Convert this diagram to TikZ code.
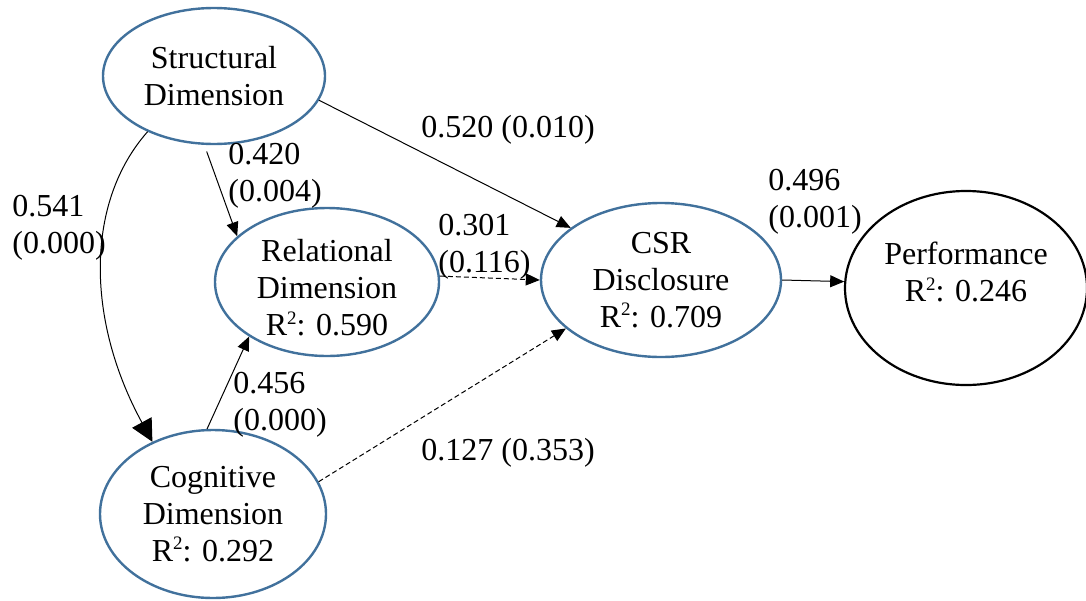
\documentclass[tikz,border=0pt]{standalone}
\usepackage{fontspec}
\setmainfont{Liberation Serif}
\usetikzlibrary{arrows.meta,shapes.geometric}
\definecolor{latentblue}{HTML}{41719C}
% small raised "2" for R-squared
\newcommand\rsqmark{\raisebox{0.36em}{\fontsize{9.5}{9.5}\selectfont 2}}
\begin{document}
\begin{tikzpicture}[x=0.5pt,y=-0.5pt,
  every node/.style={font=\fontsize{16}{18.5}\selectfont, inner sep=0pt},
  latent/.style={ellipse, draw=latentblue, line width=1.2pt, align=center},
  outcome/.style={ellipse, draw=black, line width=1.1pt, align=center},
  path/.style={draw=black, line width=0.5pt, -{Triangle[length=7pt,width=6pt]}},
  weakpath/.style={path, dashed, dash pattern=on 2.5pt off 1.5pt},
  coef/.style={align=left, anchor=west},
  coefline/.style={anchor=center}]
\useasboundingbox (0,0) rectangle (1086,600);

% constructs
\node[latent, minimum width=111pt, minimum height=68pt] (s) at (214,76) {Structural\\Dimension};
\node[latent, minimum width=112pt, minimum height=74pt,
  label={[align=center, yshift=-3pt]center:{Relational\\Dimension\\R\rsqmark: 0.590}}] (r) at (327,282) {};
\node[latent, minimum width=113pt, minimum height=84pt] (c) at (213,514) {Cognitive\\Dimension\\R\rsqmark: 0.292};
\node[latent, minimum width=120pt, minimum height=77pt] (csr) at (661,280) {CSR\\Disclosure\\R\rsqmark: 0.709};
\node[outcome, minimum width=121pt, minimum height=97pt,
  label={[align=center, yshift=8pt]center:{Performance\\R\rsqmark: 0.246}}] (perf) at (966,288) {};

% structural paths
\draw[path] (s.-13) -- (csr.150);
\draw[path, shorten <=3.5pt] (s.-98) -- (r.153);
\draw[draw=black, line width=0.5pt, -{Triangle[length=11pt,width=11pt]}]
  (s.-140) .. controls +(-62,70) and +(-67,-123) .. (c.130);
\draw[path] (c.94) -- (r.-145);
\draw[weakpath] (r.3) -- (csr.west);
\draw[weakpath] (c.17) -- (csr.-153);
\draw[path] (csr.east) -- (perf.177);

% coefficients (p-values)
\node[coefline] (k1) at (508,130) {0.520 (0.010)};
\node[coef] (k2) at (228,176) {0.420\\(0.004)};
\node[coef] (k3) at (12,228) {0.541\\(0.000)};
\node[coef] (k4) at (438,247) {0.301\\(0.116)};
\node[coef] (k5) at (768,202) {0.496\\(0.001)};
\node[coef] (k6) at (233,405) {0.456\\(0.000)};
\node[coefline] (k7) at (508,453) {0.127 (0.353)};
\end{tikzpicture}
\end{document}
